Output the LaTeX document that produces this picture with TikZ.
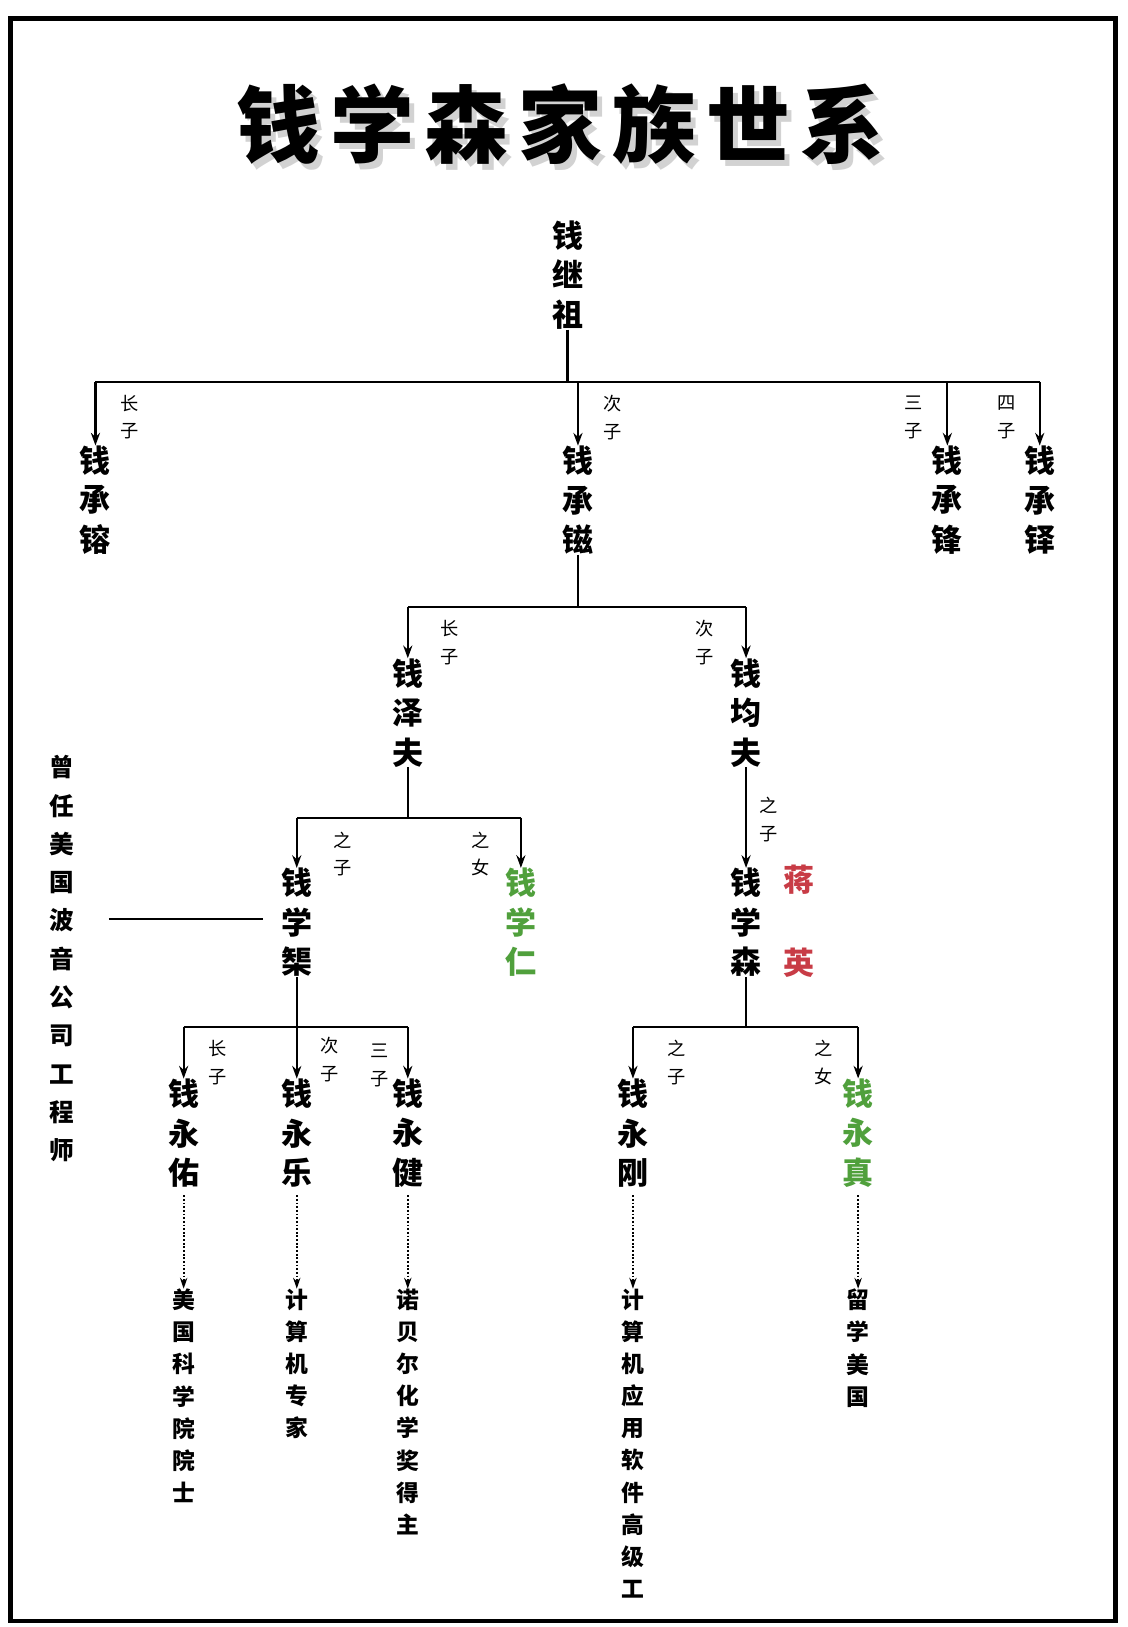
\documentclass[tikz,border=0pt]{standalone}
\usepackage{fontspec}
\setmainfont{Noto Sans CJK SC}
\usetikzlibrary{arrows.meta}
\definecolor{leafgreen}{RGB}{80,160,60}
\definecolor{rosered}{RGB}{200,60,70}
\tikzset{
  person/.style={font=\fontsize{17}{21.6}\selectfont\bfseries, align=center, inner sep=0pt},
  tag/.style={font=\fontsize{10}{15.3}\selectfont, align=center, inner sep=0pt},
  note/.style={font=\fontsize{12.5}{17.6}\selectfont\bfseries, align=center, inner sep=0pt, anchor=north},
  link/.style={line width=1.2pt, -{Stealth[length=7pt,width=5pt]}},
  bar/.style={line width=1.2pt},
  dots/.style={line width=1pt, densely dotted, -{Stealth[length=6pt,width=4pt]}},
  heading/.style={font=\fontsize{46}{52}\selectfont\bfseries\addfontfeature{LetterSpace=12}}
}
\begin{document}
\begin{tikzpicture}[x=0.02cm,y=-0.02cm]
\useasboundingbox (0,0) rectangle (1087,1568);
\draw[line width=2.5pt] (10,18) rectangle (1075,1562);
% title
\node[heading, text=gray!35] at (545,125) {钱学森家族世系};
\node[heading] (title) at (540,120) {钱学森家族世系};
% generation 1
\node[person] (jizu) at (547,265) {钱\\继\\祖};
\coordinate (j1) at (547,368);
\draw[bar] (jizu.south) -- (j1);
\draw[bar] (92,368) -- (1002,368);
\foreach \x/\n/\a/\b/\c/\t/\tx in {92/rong/钱/承/镕/长\\子/125, 557/zi/钱/承/镃/次\\子/590, 913/feng/钱/承/锋/三\\子/880, 1002/duo/钱/承/铎/四\\子/970}{
  \node[person] (\n) at (\x,482) {\a\\\b\\\c};
  \draw[link] (\x,368) -- (\n.north);
  \node[tag] at (\tx,402) {\t};
}
% generation 2
\draw[bar] (zi.south) -- (557,585);
\draw[bar] (393,585) -- (719,585);
\node[person] (zefu) at (393,687) {钱\\泽\\夫};
\node[person] (junfu) at (719,687) {钱\\均\\夫};
\draw[link] (393,585) -- (zefu.north);
\draw[link] (719,585) -- (junfu.north);
\node[tag] at (433,619) {长\\子};
\node[tag] at (679,619) {次\\子};
% generation 3
\draw[bar] (zefu.south) -- (393,788);
\draw[bar] (286,788) -- (502,788);
\node[person] (xueju) at (286,889) {钱\\学\\榘};
\node[person, text=leafgreen] (xueren) at (502,889) {钱\\学\\仁};
\node[person] (xuesen) at (719,889) {钱\\学\\森};
\node[person, text=rosered] (jiang) at (770,848) {蒋};
\node[person, text=rosered] (ying) at (770,928) {英};
\draw[link] (286,788) -- (xueju.north);
\draw[link] (502,788) -- (xueren.north);
\draw[link] (junfu.south) -- (xuesen.north);
\node[tag] at (330,823) {之\\子};
\node[tag] at (463,823) {之\\女};
\node[tag] at (741,790) {之\\子};
\node[font=\fontsize{13.5}{21}\selectfont\bfseries, align=center, inner sep=0pt] (boeing) at (60,924) {曾\\任\\美\\国\\波\\音\\公\\司\\工\\程\\师};
\draw[bar] (105,886) -- (253,886);
% generation 4
\draw[bar] (xueju.south) -- (286,990);
\draw[bar] (177,990) -- (393,990);
\draw[bar] (xuesen.south) -- (719,990);
\draw[bar] (610,990) -- (827,990);
\foreach \x/\n/\a/\b/\c/\col in {177/yongyou/钱/永/佑/black, 286/yongle/钱/永/乐/black, 393/yongjian/钱/永/健/black, 610/yonggang/钱/永/刚/black, 827/yongzhen/钱/永/真/leafgreen}{
  \node[person, text=\col] (\n) at (\x,1092) {\a\\\b\\\c};
  \draw[link] (\x,990) -- (\n.north);
}
\node[tag] at (210,1024) {长\\子};
\node[tag] at (318,1021) {次\\子};
\node[tag] at (366,1027) {三\\子};
\node[tag] at (652,1024) {之\\子};
\node[tag] at (794,1024) {之\\女};
% notes
\foreach \n/\t in {yongyou/美\\国\\科\\学\\院\\院\\士, yongle/计\\算\\机\\专\\家, yongjian/诺\\贝\\尔\\化\\学\\奖\\得\\主, yonggang/计\\算\\机\\应\\用\\软\\件\\高\\级\\工, yongzhen/留\\学\\美\\国}{
  \node[note] (\n-note) at ([yshift=-1.95cm]\n.south) {\t};
  \draw[dots] ([yshift=-0.15cm]\n.south) -- (\n-note.north);
}
\end{tikzpicture}
\end{document}
